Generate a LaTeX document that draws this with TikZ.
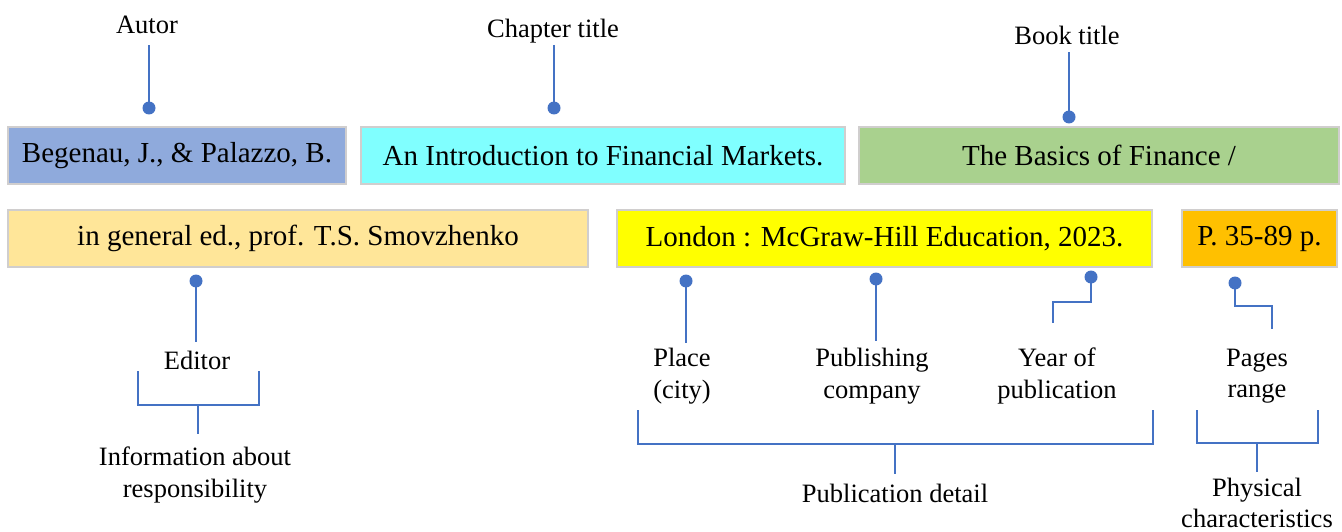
\documentclass[tikz,border=0pt]{standalone}
\usepackage{fontspec}
\setmainfont{Liberation Serif}
\definecolor{lineblue}{HTML}{4472C4}
\definecolor{boxgray}{HTML}{D0CECE}
\definecolor{cBlue}{HTML}{8FAADC}
\definecolor{cCyan}{HTML}{80FFFF}
\definecolor{cGreen}{HTML}{A9D18E}
\definecolor{cLight}{HTML}{FFE699}
\definecolor{cYellow}{HTML}{FFFF00}
\definecolor{cOrange}{HTML}{FFC000}
\begin{document}
\begin{tikzpicture}[x=1pt,y=-1pt,
  box/.style={draw=boxgray, line width=1.3pt, minimum height=57pt, inner sep=0pt,
    font=\fontsize{29}{34}\selectfont},
  lbl/.style={align=center, inner sep=0pt, font=\fontsize{26.5}{31.5}\selectfont},
  conn/.style={draw=lineblue, line width=2.8pt},
  pin/.style={fill=lineblue}]
\useasboundingbox (0,0) rectangle (1342,532);

% boxes, first row
\node[box, fill=cBlue,  minimum width=338pt] (b1) at (177,155.5) {Begenau, J., \& Palazzo, B.};
\node[box, fill=cCyan,  minimum width=484pt] (b2) at (603,155.5) {An Introduction to Financial Markets.};
\node[box, fill=cGreen, minimum width=480pt] (b3) at (1099,155.5) {The Basics of Finance /};
% boxes, second row
\node[box, fill=cLight,  minimum width=580pt] (b4) at (298,238.5) {in general ed., prof. T.S. Smovzhenko};
\node[box, fill=cYellow, minimum width=535pt] (b5) at (884.5,238.5) {London : McGraw-Hill Education, 2023.};
\node[box, fill=cOrange, minimum width=155pt] (b6) at (1259.5,238.5) {P. 35-89 p.};

% labels above
\node[lbl, anchor=base] (autor) at (147,34) {Autor};
\node[lbl, anchor=base] (chap) at (553,38) {Chapter title};
\node[lbl, anchor=base] (book) at (1067,45) {Book title};

% labels below
\node[lbl, anchor=base] (editor) at (197,369) {Editor};
\node[lbl] (info) at (195,475) {Information about\\responsibility};
\node[lbl] (place) at (682,376) {Place\\(city)};
\node[lbl] (publ) at (872,376) {Publishing\\company};
\node[lbl] (year) at (1057,376) {Year of\\publication};
\node[lbl] (pages) at (1257,376) {Pages\\range};
\node[lbl, anchor=base] (pubdet) at (895,502) {Publication detail};
\node[lbl] (phys) at (1257,503) {Physical\\characteristics};

% pin points
\coordinate (d1) at (149,108);
\coordinate (d2) at (554,108);
\coordinate (d3) at (1069,117);
\coordinate (d4) at (196,281);
\coordinate (d5) at (686,281);
\coordinate (d6) at (876,279);
\coordinate (d7) at (1091,277);
\coordinate (d8) at (1235,283);

% connectors from top labels
\draw[conn, shorten <=11pt] (autor.south -| d1) -- (d1);
\draw[conn, shorten <=1pt] (chap.south -| d2) -- (d2);
\draw[conn, shorten <=7pt] (book.south -| d3) -- (d3);

% connectors to bottom labels
\draw[conn, shorten >=8pt] (d4) -- (d4 |- editor.north);
\draw[conn, shorten >=4.5pt] (d5) -- (d5 |- place.north);
\draw[conn, shorten >=6.5pt] (d6) -- (d6 |- publ.north);
\draw[conn, shorten >=25pt] (d7) -- ++(0,25) -| ([xshift=-4pt]year.north);
\draw[conn, shorten >=20pt] (d8) -- ++(0,23) -| ([xshift=15pt]pages.north);

% brackets
\coordinate (e1) at (138,371);
\coordinate (e2) at (259,371);
\coordinate (em) at (198,405);
\draw[conn] (e1) |- (em -| e2) -- (e2);
\draw[conn, shorten >=12.5pt] (em) -- (em |- info.north);

\coordinate (p1) at (638,410);
\coordinate (p2) at (1153,410);
\coordinate (pm) at (895,444);
\draw[conn] (p1) |- (pm -| p2) -- (p2);
\draw[conn, shorten >=9pt] (pm) -- (pm |- pubdet.north);

\coordinate (q1) at (1197,410);
\coordinate (q2) at (1318,410);
\coordinate (qm) at (1257,443);
\draw[conn] (q1) |- (qm -| q2) -- (q2);
\draw[conn, shorten >=6pt] (qm) -- (qm |- phys.north);

% pins
\foreach \d in {d1,d2,d3,d4,d5,d6,d7,d8}
  \fill[pin] (\d) circle (6.5pt);
\end{tikzpicture}
\end{document}
